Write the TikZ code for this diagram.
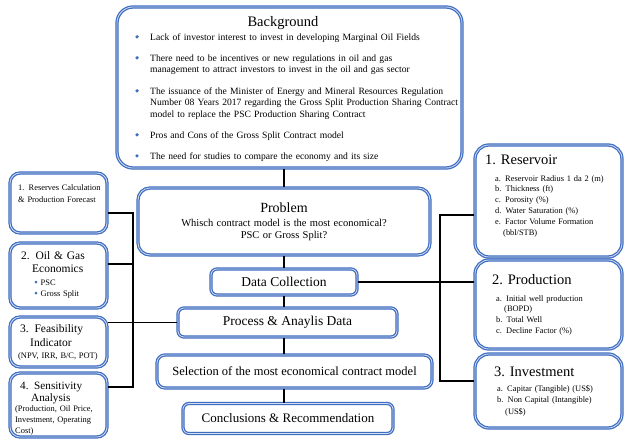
\documentclass[tikz,border=0pt]{standalone}
\usepackage{fontspec}
\setmainfont{Liberation Serif}
\usepackage{tikz}
\usetikzlibrary{calc}
\definecolor{boxblue}{HTML}{3F6DC0}
\definecolor{boxlight}{HTML}{D2DDF2}
\newcommand{\BgItem}[3]{%
  \node[dot] (#1-dot) at (137,#2-3.2) {};
  \node[bgtext, text width=310pt] (#1) at (150,#2) {#3};
}

\begin{document}
\begin{tikzpicture}[x=1pt,y=-1pt,
  frame/.style={draw=boxblue, line width=1.25pt, double=boxlight, double distance=0.8pt, fill=white, inner sep=0pt},
  link/.style={line width=1.2pt, black},
  dot/.style={circle, fill=boxblue, inner sep=0pt, minimum size=3.6pt},
  bgtext/.style={font=\fontsize{9.6}{11.5}\selectfont, inner sep=0pt, anchor=base west, align=left},
  flowtext/.style={font=\fontsize{13.5}{15}\selectfont},
  lefthead/.style={font=\fontsize{11.5}{13}\selectfont, inner sep=0pt, anchor=base west, align=left, text width=95pt},
  leftsmall/.style={font=\fontsize{8.4}{11}\selectfont, inner sep=0pt, anchor=base west, align=left, text width=95pt},
  righthead/.style={font=\fontsize{14.5}{16}\selectfont, inner sep=0pt, anchor=base west},
  rightsmall/.style={font=\fontsize{8.4}{10.8}\selectfont, inner sep=0pt, anchor=base west, align=left, text width=125pt}]
  \useasboundingbox (0,0) rectangle (624,439);

  % background
  \path (289.5,87.5) node (bg) [frame, rounded corners=16pt, minimum width=345pt, minimum height=161pt] {};
  \node[font=\fontsize{14.5}{16}\selectfont, inner sep=0pt, anchor=base] (bg-title) at (283,27) {Background};
  \BgItem{b1}{40}{Lack of investor interest to invest in developing Marginal Oil Fields}
  \BgItem{b2}{61}{There need to be incentives or new regulations in oil and gas\\management to attract investors to invest in the oil and gas sector}
  \BgItem{b3}{94}{The issuance of the Minister of Energy and Mineral Resources Regulation\\Number 08 Years 2017 regarding the Gross Split Production Sharing Contract\\model to replace the PSC Production Sharing Contract}
  \BgItem{b4}{138}{Pros and Cons of the Gross Split Contract model}
  \BgItem{b5}{159}{The need for studies to compare the economy and its size}

  % main flow
  \path (284,221.5) node (prob) [frame, rounded corners=12pt, minimum width=292pt, minimum height=67pt, text width=285pt, align=center]
    {{\fontsize{14}{16}\selectfont Problem\par}\vspace{3pt}{\fontsize{10.5}{11.5}\selectfont Whisch contract model is the most economical?\\PSC or Gross Split?\par}};
  \path (284,282) node (data) [frame, flowtext, rounded corners=6pt, minimum width=146pt, minimum height=26pt] {Data Collection};
  \path (287.5,322.5) node (proc) [frame, flowtext, rounded corners=6pt, minimum width=219pt, minimum height=29pt] {Process \& Anaylis Data};
  \path (294.5,371.5) node (sel) [frame, font=\fontsize{12.5}{14}\selectfont, rounded corners=8pt, minimum width=275pt, minimum height=33pt] {Selection of the most economical contract model};
  \path (288,418.5) node (conc) [frame, font=\fontsize{13}{15}\selectfont, rounded corners=6pt, minimum width=210pt, minimum height=30pt] {Conclusions \& Recommendation};

  % left side
  \path (58.5,203) node (lres) [frame, rounded corners=10pt, minimum width=97pt, minimum height=60pt] {};
  \path (58.5,275.5) node (leco) [frame, rounded corners=10pt, minimum width=97pt, minimum height=65pt] {};
  \path (58.5,342) node (lfea) [frame, rounded corners=10pt, minimum width=97pt, minimum height=50pt] {};
  \path (58.5,405) node (lsen) [frame, rounded corners=10pt, minimum width=97pt, minimum height=64pt] {};
  \node[leftsmall, font=\fontsize{8.4}{12}\selectfont] (lres-t) at (18,190) {1. Reserves Calculation\\\& Production Forecast};
  \node[lefthead] (leco-t) at (21,259) {2. Oil \& Gas\\\hspace*{11pt}Economics};
  \node[dot, minimum size=3pt] (leco-d1) at (36,282.2) {};
  \node[dot, minimum size=3pt] (leco-d2) at (36,293.2) {};
  \node[leftsmall] (leco-i) at (40.5,285) {PSC\\Gross Split};
  \node[lefthead, font=\fontsize{11.5}{14}\selectfont] (lfea-t) at (20,332) {3. Feasibility\\\hspace*{10pt}Indicator};
  \node[leftsmall] (lfea-s) at (18,358) {(NPV, IRR, B/C, POT)};
  \node[lefthead, font=\fontsize{11.2}{12}\selectfont] (lsen-t) at (20,389) {4. Sensitivity\\\hspace*{11pt}Analysis};
  \node[leftsmall] (lsen-s) at (15,411) {(Production, Oil Price,\\Investment, Operating\\Cost)};

  % right side
  \path (548.5,201) node (rres) [frame, rounded corners=14pt, minimum width=147pt, minimum height=112pt] {};
  \path (548.5,304.5) node (rprod) [frame, rounded corners=14pt, minimum width=147pt, minimum height=89pt] {};
  \path (548.5,391) node (rinv) [frame, rounded corners=14pt, minimum width=147pt, minimum height=74pt] {};
  \node[righthead] (rres-t) at (485,164) {1. Reservoir};
  \node[rightsmall] (rres-i) at (495,181) {a. Reservoir Radius 1 da 2 (m)\\b. Thickness (ft)\\c. Porosity (\%)\\d. Water Saturation (\%)\\e. Factor Volume Formation\\\hspace*{8pt}(bbl/STB)};
  \node[righthead] (rprod-t) at (492,284) {2. Production};
  \node[rightsmall] (rprod-i) at (496,301) {a. Initial well production\\\hspace*{8pt}(BOPD)\\b. Total Well\\c. Decline Factor (\%)};
  \node[righthead] (rinv-t) at (494,376) {3. Investment};
  \node[rightsmall, font=\fontsize{8.4}{11.5}\selectfont] (rinv-i) at (497,391) {a. Capitar (Tangible) (US\$)\\b. Non Capital (Intangible)\\\hspace*{8pt}(US\$)};

  % connectors
  \coordinate (lj1) at (133,213);
  \coordinate (lj2) at (133,264);
  \coordinate (lj4) at (133,387);
  \coordinate (rj1) at (440,215);
  \coordinate (rj3) at (440,381);
  \draw[link] (prob.north |- bg.south) -- (prob.north);
  \draw[link] (prob.south) -- (data.north);
  \draw[link] (data.south) -- (data.south |- proc.north);
  \draw[link] (data.south |- proc.south) -- (data.south |- sel.north);
  \draw[link] (data.south |- sel.south) -- (data.south |- conc.north);
  \draw[link] (lj1 -| lres.east) -- (lj1) -- (lj4) -- (lj4 -| lsen.east);
  \draw[link] (lj2 -| leco.east) -- (lj2);
  \draw[link] (proc.west) -- (proc.west -| lfea.east);
  \draw[link] (rj1 -| rres.west) -- (rj1) -- (rj3) -- (rj3 -| rinv.west);
  \draw[link] (data.east) -- (data.east -| rprod.west);
\end{tikzpicture}
\end{document}
